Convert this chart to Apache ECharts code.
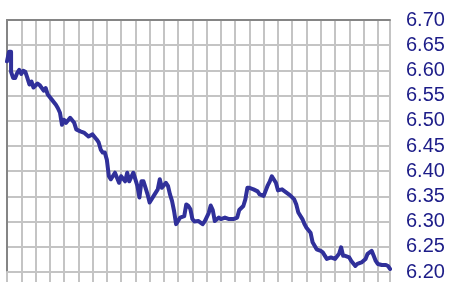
<!DOCTYPE html>
<html>
<head>
<meta charset="utf-8">
<script src="https://cdn.jsdelivr.net/npm/echarts@6/dist/echarts.min.js"></script>
<style>
  html, body { margin: 0; padding: 0; background: #fff; }
  #chart { width: 451px; height: 282px; }
</style>
</head>
<body>
<div id="chart"></div>
<script>
// day offsets along the x axis (grid line every 7 days)
var days = [0, 1, 2, 2, 3, 4, 5, 6, 7, 8, 9, 10, 11, 12, 13, 15, 16, 18, 19, 20,
  22, 24, 25, 26, 27, 28, 29, 31, 33, 34, 36, 38, 40, 42, 44, 45, 46, 47, 48, 49,
  50, 51, 53, 55, 56, 58, 59, 60, 62, 64, 65, 66, 67, 69, 70, 72, 74, 75, 76, 78,
  79, 80, 81, 82, 83, 85, 87, 88, 89, 90, 91, 92, 94, 96, 97, 99, 100, 101, 102, 104,
  105, 107, 109, 111, 113, 114, 116, 117, 118, 119, 121, 123, 124, 126, 128, 129, 130, 132, 133, 135,
  137, 139, 141, 142, 143, 145, 146, 147, 149, 150, 152, 154, 155, 157, 159, 161, 163, 164, 165, 166,
  168, 169, 171, 172, 174, 176, 177, 179, 180, 181, 182, 184, 186, 187, 188];
var rates = [6.618, 6.637, 6.637, 6.597, 6.585, 6.585, 6.595, 6.601, 6.593, 6.599, 6.597, 6.585, 6.572, 6.578, 6.566, 6.574, 6.571, 6.560, 6.565, 6.552,
  6.542, 6.532, 6.525, 6.516, 6.492, 6.502, 6.496, 6.506, 6.496, 6.483, 6.479, 6.476, 6.469, 6.473, 6.463, 6.457, 6.443, 6.437, 6.437, 6.423,
  6.390, 6.384, 6.397, 6.377, 6.390, 6.380, 6.397, 6.380, 6.397, 6.371, 6.348, 6.380, 6.380, 6.354, 6.338, 6.351, 6.364, 6.384, 6.367, 6.377,
  6.371, 6.354, 6.341, 6.321, 6.295, 6.308, 6.311, 6.334, 6.331, 6.325, 6.305, 6.300, 6.301, 6.295, 6.300, 6.317, 6.332, 6.323, 6.301, 6.308,
  6.305, 6.308, 6.305, 6.305, 6.308, 6.323, 6.331, 6.344, 6.367, 6.367, 6.364, 6.360, 6.354, 6.351, 6.372, 6.380, 6.390, 6.377, 6.362, 6.364,
  6.358, 6.352, 6.344, 6.334, 6.318, 6.305, 6.295, 6.288, 6.278, 6.259, 6.245, 6.242, 6.239, 6.226, 6.229, 6.226, 6.236, 6.249, 6.232, 6.232,
  6.229, 6.222, 6.212, 6.216, 6.219, 6.226, 6.236, 6.242, 6.232, 6.222, 6.216, 6.214, 6.214, 6.212, 6.206];
var yMin = 6.20, yMax = 6.70, yStep = 0.05;
var xMax = 188, xStep = 7;

var gridGrey = '#c4c4c4';
var frameGrey = '#858585';

var chart = echarts.init(document.getElementById('chart'));
chart.setOption({
  animation: false,
  grid: { left: 7, right: 61, top: 20, bottom: 9 },
  xAxis: [
    {
      type: 'value', position: 'top', min: 0, max: xMax, interval: xStep,
      axisLine: { show: true, lineStyle: { color: frameGrey, width: 2 } },
      axisTick: { show: false },
      axisLabel: { show: false },
      splitLine: { show: true, lineStyle: { color: gridGrey, width: 2 } }
    },
    {
      type: 'value', position: 'bottom', min: 0, max: xMax, interval: xStep,
      axisLine: { show: true, lineStyle: { color: gridGrey, width: 2 } },
      axisTick: { show: true, length: 10, lineStyle: { color: gridGrey, width: 2 } },
      axisLabel: { show: false },
      splitLine: { show: false }
    }
  ],
  yAxis: [
    {
      type: 'value', position: 'right', min: yMin, max: yMax, interval: yStep,
      axisLine: { show: true, lineStyle: { color: gridGrey, width: 2 } },
      axisTick: { show: false },
      axisLabel: {
        color: '#1c1c88', fontSize: 20, fontFamily: 'Liberation Sans, Arial, sans-serif',
        margin: 16, padding: [0, 0, 4, 0],
        formatter: function (v) { return v.toFixed(2); }
      },
      splitLine: { show: true, lineStyle: { color: gridGrey, width: 2 } }
    },
    {
      type: 'value', position: 'left', min: yMin, max: yMax, interval: yStep,
      axisLine: { show: true, lineStyle: { color: frameGrey, width: 2 } },
      axisTick: { show: false },
      axisLabel: { show: false },
      splitLine: { show: false }
    }
  ],
  series: [{
    type: 'line',
    xAxisIndex: 0,
    yAxisIndex: 0,
    showSymbol: false,
    clip: false,
    lineStyle: { color: '#30309a', width: 4, join: 'round', cap: 'round' },
    data: days.map(function (d, i) { return [d, rates[i]]; })
  }]
});
</script>
</body>
</html>
